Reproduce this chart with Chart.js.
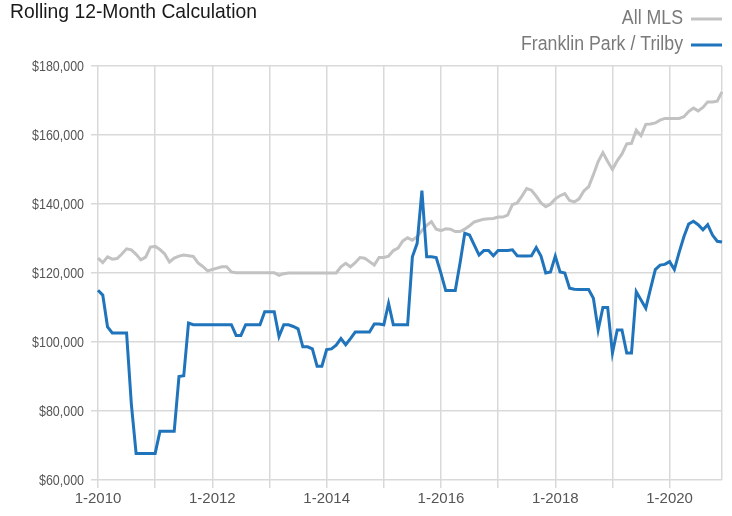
<!DOCTYPE html>
<html>
<head>
<meta charset="utf-8">
<script src="https://cdn.jsdelivr.net/npm/chart.js@4.4.1/dist/chart.umd.min.js"></script>
<style>
  html, body { margin: 0; padding: 0; background: #fff; }
  #wrap { width: 732px; height: 516px; }
</style>
</head>
<body>
<div id="wrap"><canvas id="rolling-chart"></canvas></div>
<script>
// monthly categories, 1-2010 .. 12-2020
const firstYear = 2010;
const lastYear = 2020;
const months = [];
for (let y = firstYear; y <= lastYear; y++) {
  for (let m = 1; m <= 12; m++) months.push(m + '-' + y);
}

const titleText = 'Rolling 12-Month Calculation';
const seriesNames = ['All MLS', 'Franklin Park / Trilby'];

// All MLS, rolling 12-month median price
const allMls = [
  124300, 123000, 124700, 124000, 124200, 125500, 127000, 126700, 125400, 123800, 124600, 127500,
  127700, 126800, 125500, 123200, 124300, 124900, 125200, 125000, 124800, 122900, 121900, 120600,
  121000, 121400, 121800, 121800, 120300, 120100, 120100, 120100, 120100, 120100, 120100, 120100,
  120100, 120100, 119300, 119800, 120000, 120000, 120000, 120000, 120000, 120000, 120000, 120000,
  120000, 120000, 120000, 121800, 122800, 121800, 123000, 124500, 124300, 123300, 122300, 124500,
  124500, 124900, 126500, 127200, 129300, 130200, 129500, 130500, 132300, 133800, 134900, 132700,
  132300, 132800, 132700, 132000, 132000, 132700, 133700, 134800, 135200, 135600, 135700, 135800,
  136200, 136200, 136800, 139800, 140300, 142300, 144500, 144000, 142300, 140300, 139200, 140000,
  141500, 142400, 143000, 141000, 140600, 141500, 143800, 145000, 148500, 152300, 154900, 152300,
  150000, 152500, 154500, 157400, 157600, 161400, 159800, 163100, 163200, 163500, 164300, 164800,
  164800, 164800, 164800, 165300, 166800, 167800, 167000, 168000, 169600, 169600, 169800, 172500
];

// Franklin Park / Trilby
const franklinPark = [
  115000, 113600, 104400, 102600, 102600, 102600, 102600, 82000, 67700, 67700, 67700, 67700,
  67700, 74100, 74100, 74100, 74100, 90000, 90200, 105500, 105000, 105000, 105000, 105000,
  105000, 105000, 105000, 105000, 105000, 101900, 101900, 105000, 105000, 105000, 105000, 108800,
  108800, 108800, 101600, 105000, 105000, 104500, 103800, 98600, 98600, 98000, 93000, 93000,
  97800, 98000, 99100, 101000, 99200, 101000, 102900, 102900, 102900, 102900, 105200, 105200,
  105000, 111200, 105000, 105000, 105000, 105000, 124700, 128600, 143900, 124700, 124700, 124500,
  119900, 114900, 114900, 114900, 122800, 131500, 131000, 128100, 125200, 126500, 126500, 125000,
  126500, 126500, 126500, 126700, 125000, 124900, 124900, 125000, 127400, 124900, 120000, 120300,
  124900, 120300, 120000, 115600, 115300, 115200, 115200, 115200, 112700, 103500, 110000, 110000,
  96800, 103500, 103500, 96800, 96800, 114600, 112200, 109800, 115500, 121000, 122300, 122500,
  123300, 121000, 126000, 130500, 134200, 135000, 134000, 132500, 134000, 131000, 129200, 129000
];

const yTicks = [60000, 80000, 100000, 120000, 140000, 160000, 180000];

const gridGray = '#d9d9d9';
const fontFamily = '"Liberation Sans", Arial, sans-serif';
Chart.defaults.font.family = fontFamily;

const money = (v) => '$' + v.toLocaleString('en-US');

// squeezed text, the original uses a condensed face
function narrowText(c, text, x, y, size, squeeze, align) {
  c.save();
  c.font = size + 'px ' + fontFamily;
  c.textAlign = align;
  c.textBaseline = 'middle';
  c.translate(x, y);
  c.scale(squeeze, 1);
  c.fillText(text, 0, 0);
  c.restore();
}

const headerPlugin = {
  id: 'header',
  afterDraw(chart) {
    const c = chart.ctx;
    c.save();
    c.fillStyle = '#1a1a1a';
    narrowText(c, titleText, 10, 12, 21, 0.92, 'left');

    // legend, text right aligned with the line sample after it
    [0, 1].forEach((i, row) => {
      const ds = chart.data.datasets[i];
      const y = 19 + row * 26;
      c.fillStyle = '#7a7a7a';
      narrowText(c, ds.label, 683, y, 19.5, 0.91, 'right');
      c.strokeStyle = ds.borderColor;
      c.lineWidth = 3;
      c.beginPath();
      c.moveTo(691, y);
      c.lineTo(722, y);
      c.stroke();
    });

    // y tick labels, placed by the y scale
    const ys = chart.scales.y;
    c.fillStyle = '#555';
    ys.ticks.forEach((t) => {
      narrowText(c, money(t.value), ys.right - 14, ys.getPixelForValue(t.value) + 1, 15, 0.83, 'right');
    });
    c.restore();
  }
};

const ctx = document.getElementById('rolling-chart').getContext('2d');
new Chart(ctx, {
  type: 'line',
  data: {
    labels: months,
    datasets: [
      {
        label: seriesNames[0],
        data: allMls,
        borderColor: '#c2c2c2',
        borderWidth: 3,
        pointRadius: 0,
        tension: 0,
        order: 1
      },
      {
        label: seriesNames[1],
        data: franklinPark,
        borderColor: '#1f74bb',
        borderWidth: 3,
        pointRadius: 0,
        tension: 0,
        order: 0
      }
    ]
  },
  options: {
    responsive: true,
    maintainAspectRatio: false,
    animation: false,
    layout: { padding: { top: 66, right: 10, bottom: 0, left: 0 } },
    plugins: {
      legend: { display: false },
      tooltip: { enabled: false }
    },
    scales: {
      x: {
        grid: {
          color: (c) => (c.index % 12 === 0 || c.index === months.length - 1) ? gridGray : 'transparent',
          tickColor: (c) => c.index % 12 === 0 ? gridGray : 'transparent',
          lineWidth: 1.5,
          tickLength: 8
        },
        border: { display: false },
        ticks: {
          autoSkip: false,
          maxRotation: 0,
          padding: 2,
          color: '#555',
          font: { size: 15 },
          callback: (v, i) => i % 24 === 0 ? months[i] : ''
        },
        afterFit: (s) => { s.height = 36; }
      },
      y: {
        min: 60000,
        max: 180000,
        afterBuildTicks: (s) => { s.ticks = yTicks.map(v => ({ value: v })); },
        grid: { color: gridGray, lineWidth: 1.5, tickLength: 7 },
        border: { display: false },
        ticks: { display: false },
        afterFit: (s) => { s.width = 98; }
      }
    }
  },
  plugins: [headerPlugin]
});
</script>
</body>
</html>
